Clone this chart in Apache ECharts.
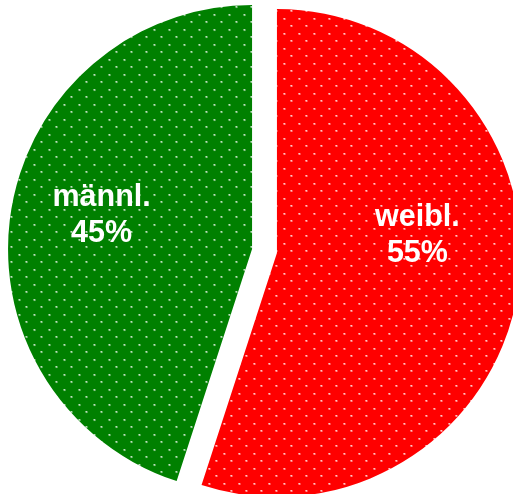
<!DOCTYPE html>
<html>
<head>
<meta charset="utf-8">
<style>
  html, body { margin: 0; padding: 0; background: #ffffff; }
  #chart { width: 513px; height: 494px; }
</style>
<script src="https://cdn.jsdelivr.net/npm/echarts@6/dist/echarts.min.js"></script>
</head>
<body>
<div id="chart"></div>
<script>
// Data
const categories = ['weibl.', 'männl.'];
const shares = [55, 45];
const sliceColors = ['#ff0000', '#008000'];
const labelShift = [[17, -37], [-27, -14]];

function dotPattern(base) {
  const c = document.createElement('canvas');
  c.width = 15; c.height = 15;
  const g = c.getContext('2d');
  g.fillStyle = base;
  g.fillRect(0, 0, 15, 15);
  g.fillStyle = 'rgba(255,255,255,0.55)';
  g.fillRect(1, 1, 2, 2);
  g.fillRect(8, 8, 2, 2);
  g.fillStyle = 'rgba(255,255,255,1)';
  g.fillRect(1, 1, 1, 1);
  g.fillRect(8, 8, 1, 1);
  return c;
}

const chart = echarts.init(document.getElementById('chart'), null, { renderer: 'canvas' });
const seriesData = categories.map((name, i) => ({
  name: name,
  value: shares[i],
  selected: true,
  itemStyle: { color: { image: dotPattern(sliceColors[i]), repeat: 'repeat' } }
}));

chart.setOption({
  animation: false,
  series: [{
    type: 'pie',
    center: [264.5, 251],
    radius: 244,
    startAngle: 90,
    clockwise: true,
    selectedMode: 'multiple',
    selectedOffset: 12.6,
    data: seriesData,
    itemStyle: { borderWidth: 0 },
    emphasis: { disabled: true },
    select: { itemStyle: { borderWidth: 0 } },
    label: {
      show: true,
      position: 'inside',
      formatter: '{b}\n{d}%',
      color: '#ffffff',
      fontFamily: 'Liberation Sans, Arial, sans-serif',
      fontWeight: 'bold',
      fontSize: 30.5,
      lineHeight: 36,
      align: 'center'
    },
    labelLine: { show: false },
    labelLayout: function (p) {
      return { dx: labelShift[p.dataIndex][0], dy: labelShift[p.dataIndex][1] };
    }
  }]
});
</script>
</body>
</html>
